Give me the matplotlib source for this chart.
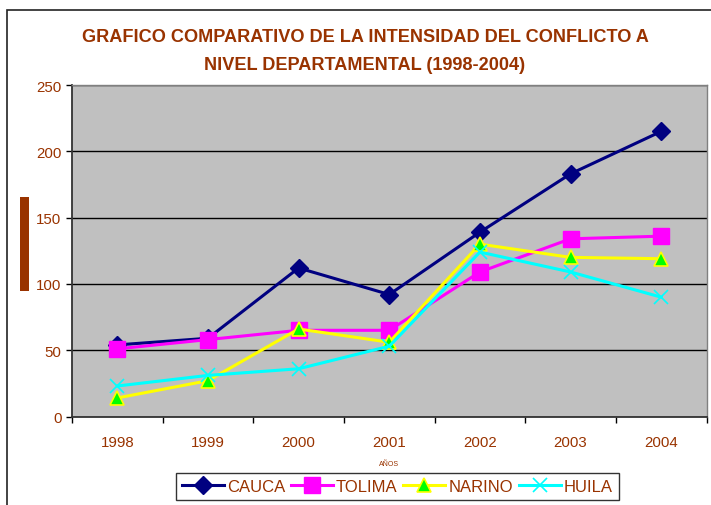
import matplotlib
matplotlib.use("Agg")
from matplotlib import pyplot as plt
from matplotlib.patches import Rectangle
import numpy as np

plt.rcParams['font.family'] = ['Liberation Sans', 'DejaVu Sans']

# datos
anios = ['1998', '1999', '2000', '2001', '2002', '2003', '2004']
cauca = [54, 59, 112, 92, 139, 183, 215]
tolima = [51, 58, 65, 65, 109, 134, 136]
narino = [14, 27, 66, 56, 130, 120, 119]
huila = [23, 31, 36, 53, 124, 109, 90]

marron = '#993300'
W, H = 711, 506

fig = plt.figure(figsize=(W / 100, H / 100), dpi=100)
fig.patch.set_facecolor('white')

# marco de la figura (cortado a la derecha y abajo)
fig.add_artist(Rectangle((7 / W, -0.1), 1.0, 1 - 11 / H + 0.1, transform=fig.transFigure,
                         fill=False, edgecolor='#222222', linewidth=1.2))
# barra marron a la izquierda (titulo del eje y)
fig.add_artist(Rectangle((20 / W, 1 - 292 / H), 9 / W, 94 / H, transform=fig.transFigure,
                         facecolor=marron, edgecolor='none'))

ax = fig.add_axes([72 / W, 1 - 417.5 / H, (706.5 - 72) / W, (417.5 - 86) / H])
ax.set_facecolor('#C0C0C0')

x = np.arange(len(anios))
ax.plot(x, cauca, color='#000080', lw=2.2, marker='D', ms=9.5, mfc='#000080', mec='#000080',
        label='CAUCA', zorder=3)
ax.plot(x, tolima, color='#FF00FF', lw=2.2, marker='s', ms=11, mfc='#FF00FF', mec='#FF00FF',
        label='TOLIMA', zorder=3)
ax.plot(x, narino, color='#FFFF00', lw=2.2, marker='^', ms=10, mfc='#00FF00', mec='#FFFF00',
        mew=1.2, label='NARINO', zorder=3)
ax.plot(x, huila, color='#00FFFF', lw=2.2, marker='x', ms=10, mew=1.2, mec='#00FFFF',
        label='HUILA', zorder=3)

ax.set_xlim(-0.5, len(anios) - 0.5)
ax.set_ylim(0, 250)
ax.set_yticks(np.arange(0, 251, 50))
ax.yaxis.grid(True, color='black', lw=1.0)
ax.set_axisbelow(True)

ax.set_xticks(x)
ax.set_xticklabels(anios)
ax.set_xticks(np.arange(-0.5, len(anios)), minor=True)
ax.tick_params(axis='x', which='major', length=0, pad=13, labelsize=10.8, labelcolor=marron)
ax.tick_params(axis='x', which='minor', length=4, width=1, direction='out', color='black')
ax.tick_params(axis='y', length=4, width=1, direction='out', pad=3.5, labelsize=10.8,
               labelcolor=marron)

for s in ['left', 'bottom']:
    ax.spines[s].set_color('#333333')
    ax.spines[s].set_linewidth(1.3)
for s in ['top', 'right']:
    ax.spines[s].set_color('#808080')
    ax.spines[s].set_linewidth(1.0)

ax.set_xlabel('AÑOS', fontsize=5, color=marron, labelpad=8)

fig.text(365 / W, 1 - 37.5 / H, 'GRAFICO COMPARATIVO DE LA INTENSIDAD DEL CONFLICTO A',
         ha='center', va='center', fontsize=13.1, fontweight='bold', color=marron)
fig.text(365 / W, 1 - 65 / H, 'NIVEL DEPARTAMENTAL (1998-2004)',
         ha='center', va='center', fontsize=13.1, fontweight='bold', color=marron)

leg = fig.legend(loc='upper left', bbox_to_anchor=(176 / W, 1 - 474 / H), ncol=4,
                 fontsize=12, frameon=True, fancybox=False, edgecolor='black',
                 handlelength=2.5, handletextpad=0.2, columnspacing=0.35,
                 borderpad=0.35, borderaxespad=0)
leg.get_frame().set_linewidth(1.0)
for t in leg.get_texts():
    t.set_color(marron)

fig.savefig('out.png', dpi=100)
